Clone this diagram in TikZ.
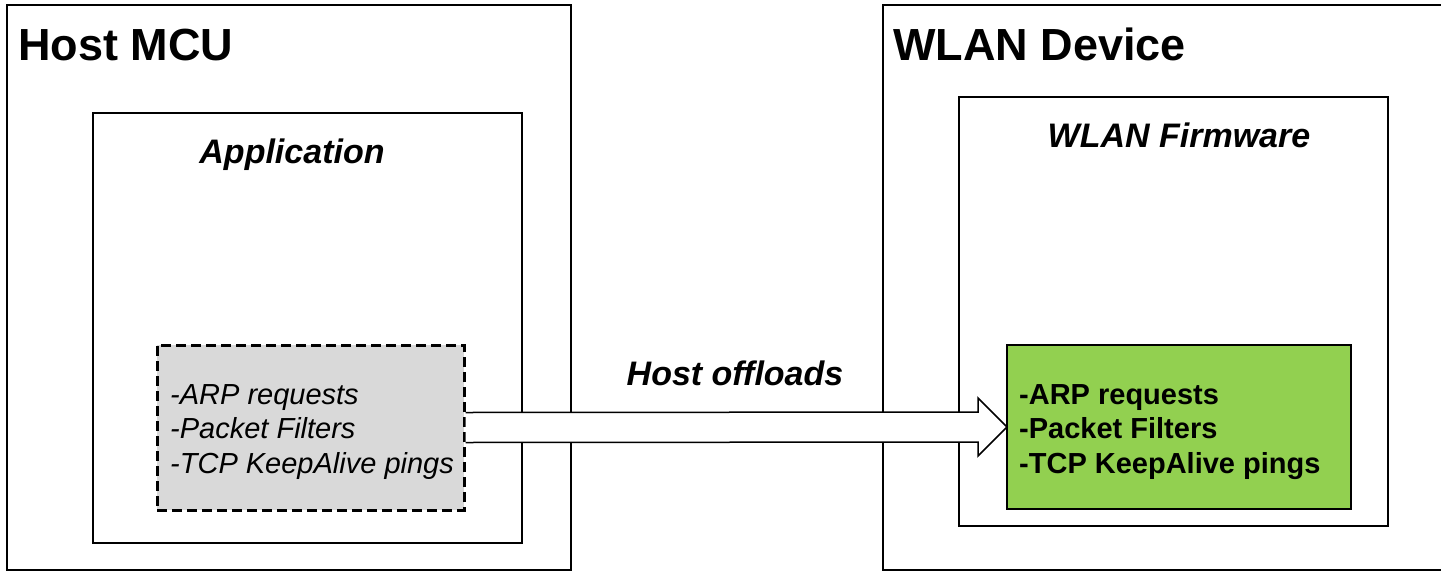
\documentclass[tikz,border=0pt]{standalone}
\usepackage{fontspec}
\setmainfont{Liberation Sans}
\usetikzlibrary{calc}
\definecolor{boxgray}{HTML}{D9D9D9}
\definecolor{boxgreen}{HTML}{92D050}
\begin{document}
\begin{tikzpicture}[x=1pt,y=-1pt,
  box/.style={draw=black, line width=2pt, inner sep=0pt, outer sep=0pt, anchor=north west, fill=white},
  titletext/.style={font=\fontsize{45}{54}\selectfont\bfseries, anchor=base west, inner sep=0pt},
  subtitletext/.style={font=\fontsize{34}{40}\selectfont\bfseries\itshape, anchor=base, inner sep=0pt},
  listtext/.style={align=left, anchor=west, inner sep=0pt},
  blockarrow/.style={draw=black, line width=1.5pt, fill=white, line join=miter}
]
\useasboundingbox (0,0) rectangle (1441,571);
\clip (0,0) rectangle (1441,571);

% outer boxes
\node[box, minimum width=564pt, minimum height=565pt] (host) at (7,5) {};
\node[box, minimum width=600pt, minimum height=565pt] (wlan) at (883,5) {};

% inner boxes
\node[box, minimum width=428.5pt, minimum height=430pt] (app) at (93,113) {};
\node[box, minimum width=428.5pt, minimum height=429pt] (fw) at (959,97) {};

% titles
\node[titletext] (hosttitle) at (18,60) {Host MCU};
\node[titletext] (wlantitle) at (893,60) {WLAN Device};
\node[subtitletext] (apptitle) at (292,163) {Application};
\node[subtitletext] (fwtitle) at (1179,147) {WLAN Firmware};
\node[subtitletext] (offload) at (735,385) {Host offloads};

% feature boxes
\node[box, fill=boxgray, line width=3pt, dash pattern=on 10pt off 5pt,
      minimum width=307pt, minimum height=165pt] (gray) at (157,345) {};
\node[box, fill=boxgreen, minimum width=344pt, minimum height=164pt] (green) at (1007,345) {};

\node[listtext, font=\fontsize{29}{34.5}\selectfont\itshape] (graytext)
  at ($(gray.west)+(13,4.5)$) {-ARP requests\\-Packet Filters\\-TCP KeepAlive pings};
\node[listtext, font=\fontsize{29}{34.5}\selectfont\bfseries] (greentext)
  at ($(green.west)+(12,5)$) {-ARP requests\\-Packet Filters\\-TCP KeepAlive pings};

% block arrow
\filldraw[blockarrow]
  ($(gray.east)+(1.5,-15)$) -- ($(green.west)+(-29,-15)$) -- ($(green.west)+(-29,-29)$)
  -- (green.west) -- ($(green.west)+(-29,29)$) -- ($(green.west)+(-29,15)$)
  -- ($(gray.east)+(1.5,15)$);
\end{tikzpicture}
\end{document}
